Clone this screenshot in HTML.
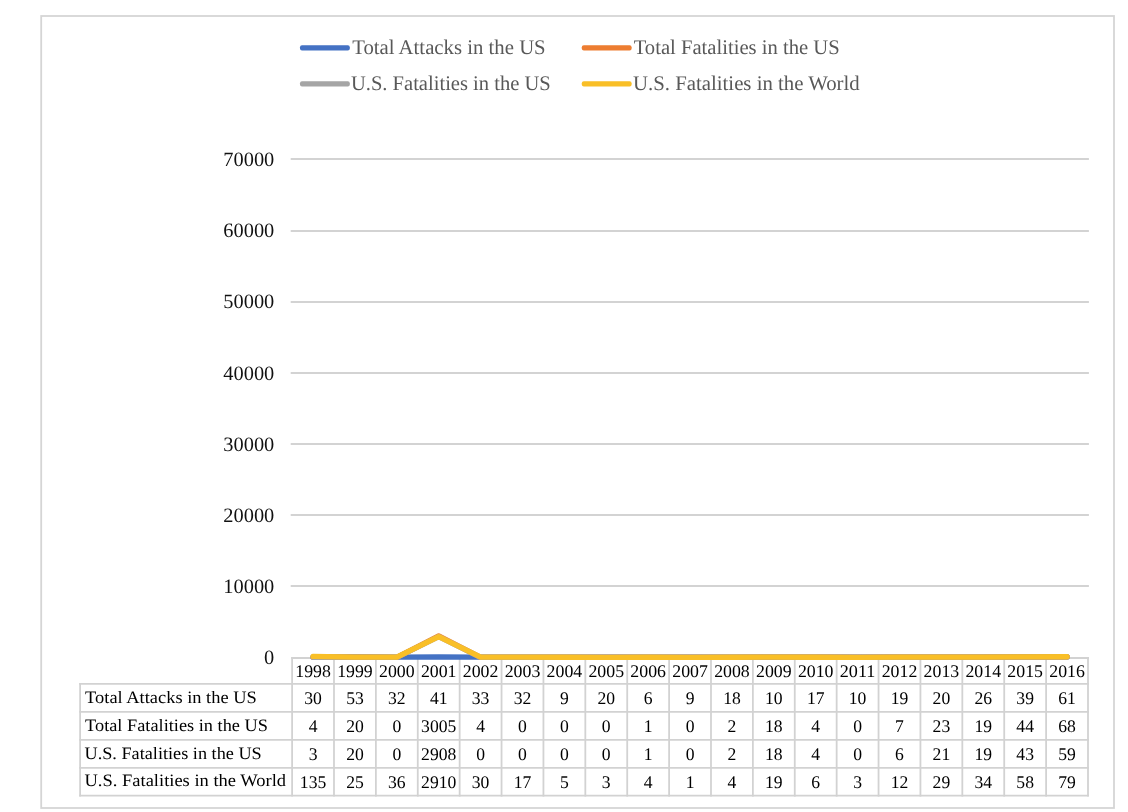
<!DOCTYPE html>
<html lang="en"><head><meta charset="utf-8"><title>Chart</title>
<style>html,body{margin:0;padding:0;background:#fff}body{width:1128px;height:812px;overflow:hidden}svg{display:block}text{font-family:"Liberation Serif","Times New Roman",serif;text-rendering:geometricPrecision}</style></head><body>
<svg width="1128" height="812" viewBox="0 0 1128 812">
<rect x="0" y="0" width="1128" height="812" fill="#fff"/>
<rect x="41.2" y="16" width="1072.8" height="792" fill="none" stroke="#D5D5D5" stroke-width="1.8"/>
<line x1="290.7" y1="159.00" x2="1088.9" y2="159.00" stroke="#D3D3D3" stroke-width="1.8"/>
<text x="274.3" y="166" font-size="20.4" text-anchor="end" fill="#111">70000</text>
<line x1="290.7" y1="231.00" x2="1088.9" y2="231.00" stroke="#D3D3D3" stroke-width="1.8"/>
<text x="274.3" y="237" font-size="20.4" text-anchor="end" fill="#111">60000</text>
<line x1="290.7" y1="302.00" x2="1088.9" y2="302.00" stroke="#D3D3D3" stroke-width="1.8"/>
<text x="274.3" y="308" font-size="20.4" text-anchor="end" fill="#111">50000</text>
<line x1="290.7" y1="373.00" x2="1088.9" y2="373.00" stroke="#D3D3D3" stroke-width="1.8"/>
<text x="274.3" y="380" font-size="20.4" text-anchor="end" fill="#111">40000</text>
<line x1="290.7" y1="444.00" x2="1088.9" y2="444.00" stroke="#D3D3D3" stroke-width="1.8"/>
<text x="274.3" y="451" font-size="20.4" text-anchor="end" fill="#111">30000</text>
<line x1="290.7" y1="515.00" x2="1088.9" y2="515.00" stroke="#D3D3D3" stroke-width="1.8"/>
<text x="274.3" y="522" font-size="20.4" text-anchor="end" fill="#111">20000</text>
<line x1="290.7" y1="586.00" x2="1088.9" y2="586.00" stroke="#D3D3D3" stroke-width="1.8"/>
<text x="274.3" y="593" font-size="20.4" text-anchor="end" fill="#111">10000</text>
<text x="274.3" y="664" font-size="20.4" text-anchor="end" fill="#111">0</text>
<rect x="300.0" y="45.20" width="49.8" height="5.4" rx="2" fill="#4472C4"/>
<text x="352.2" y="53.9" font-size="20.8" fill="#595959" textLength="193.5" lengthAdjust="spacingAndGlyphs">Total Attacks in the US</text>
<rect x="581.8" y="45.20" width="49.8" height="5.4" rx="2" fill="#ED7D31"/>
<text x="633.7" y="53.9" font-size="20.8" fill="#595959" textLength="206.0" lengthAdjust="spacingAndGlyphs">Total Fatalities in the US</text>
<rect x="300.0" y="81.20" width="49.8" height="5.4" rx="2" fill="#A5A5A5"/>
<text x="350.9" y="89.9" font-size="20.8" fill="#595959" textLength="199.9" lengthAdjust="spacingAndGlyphs">U.S. Fatalities in the US</text>
<rect x="581.8" y="81.20" width="49.8" height="5.4" rx="2" fill="#F9BF27"/>
<text x="633.1" y="89.9" font-size="20.8" fill="#595959" textLength="226.6" lengthAdjust="spacingAndGlyphs">U.S. Fatalities in the World</text>
<path d="M292.1 658.0 V683.8" stroke="#D2D2D2" stroke-width="1.8" fill="none" stroke-linecap="square"/>
<path d="M333.99 658.0 V795.7" stroke="#D2D2D2" stroke-width="1.8" fill="none" stroke-linecap="square"/>
<path d="M375.88 658.0 V795.7" stroke="#D2D2D2" stroke-width="1.8" fill="none" stroke-linecap="square"/>
<path d="M417.77 658.0 V795.7" stroke="#D2D2D2" stroke-width="1.8" fill="none" stroke-linecap="square"/>
<path d="M459.66 658.0 V795.7" stroke="#D2D2D2" stroke-width="1.8" fill="none" stroke-linecap="square"/>
<path d="M501.55 658.0 V795.7" stroke="#D2D2D2" stroke-width="1.8" fill="none" stroke-linecap="square"/>
<path d="M543.44 658.0 V795.7" stroke="#D2D2D2" stroke-width="1.8" fill="none" stroke-linecap="square"/>
<path d="M585.33 658.0 V795.7" stroke="#D2D2D2" stroke-width="1.8" fill="none" stroke-linecap="square"/>
<path d="M627.22 658.0 V795.7" stroke="#D2D2D2" stroke-width="1.8" fill="none" stroke-linecap="square"/>
<path d="M669.11 658.0 V795.7" stroke="#D2D2D2" stroke-width="1.8" fill="none" stroke-linecap="square"/>
<path d="M710.99 658.0 V795.7" stroke="#D2D2D2" stroke-width="1.8" fill="none" stroke-linecap="square"/>
<path d="M752.88 658.0 V795.7" stroke="#D2D2D2" stroke-width="1.8" fill="none" stroke-linecap="square"/>
<path d="M794.77 658.0 V795.7" stroke="#D2D2D2" stroke-width="1.8" fill="none" stroke-linecap="square"/>
<path d="M836.66 658.0 V795.7" stroke="#D2D2D2" stroke-width="1.8" fill="none" stroke-linecap="square"/>
<path d="M878.55 658.0 V795.7" stroke="#D2D2D2" stroke-width="1.8" fill="none" stroke-linecap="square"/>
<path d="M920.44 658.0 V795.7" stroke="#D2D2D2" stroke-width="1.8" fill="none" stroke-linecap="square"/>
<path d="M962.33 658.0 V795.7" stroke="#D2D2D2" stroke-width="1.8" fill="none" stroke-linecap="square"/>
<path d="M1004.22 658.0 V795.7" stroke="#D2D2D2" stroke-width="1.8" fill="none" stroke-linecap="square"/>
<path d="M1046.11 658.0 V795.7" stroke="#D2D2D2" stroke-width="1.8" fill="none" stroke-linecap="square"/>
<path d="M1088.00 658.0 V795.7" stroke="#D2D2D2" stroke-width="1.8" fill="none" stroke-linecap="square"/>
<path d="M292.1 683.8 V795.7" stroke="#D2D2D2" stroke-width="1.8" fill="none" stroke-linecap="square"/>
<path d="M80.1 683.8 V795.7" stroke="#D2D2D2" stroke-width="1.8" fill="none" stroke-linecap="square"/>
<path d="M292.1 658.0 H1088.0" stroke="#D2D2D2" stroke-width="1.8" fill="none" stroke-linecap="square"/>
<path d="M80.1 683.8 H1088.0" stroke="#D2D2D2" stroke-width="1.8" fill="none" stroke-linecap="square"/>
<path d="M80.1 711.8 H1088.0" stroke="#D2D2D2" stroke-width="1.8" fill="none" stroke-linecap="square"/>
<path d="M80.1 739.9 H1088.0" stroke="#D2D2D2" stroke-width="1.8" fill="none" stroke-linecap="square"/>
<path d="M80.1 767.9 H1088.0" stroke="#D2D2D2" stroke-width="1.8" fill="none" stroke-linecap="square"/>
<path d="M80.1 795.7 H1088.0" stroke="#D2D2D2" stroke-width="1.8" fill="none" stroke-linecap="square"/>
<text x="313.04" y="677.2" font-size="17.8" text-anchor="middle" fill="#000" textLength="35.6" lengthAdjust="spacingAndGlyphs">1998</text>
<text x="354.93" y="677.2" font-size="17.8" text-anchor="middle" fill="#000" textLength="35.6" lengthAdjust="spacingAndGlyphs">1999</text>
<text x="396.82" y="677.2" font-size="17.8" text-anchor="middle" fill="#000" textLength="35.6" lengthAdjust="spacingAndGlyphs">2000</text>
<text x="438.71" y="677.2" font-size="17.8" text-anchor="middle" fill="#000" textLength="35.6" lengthAdjust="spacingAndGlyphs">2001</text>
<text x="480.60" y="677.2" font-size="17.8" text-anchor="middle" fill="#000" textLength="35.6" lengthAdjust="spacingAndGlyphs">2002</text>
<text x="522.49" y="677.2" font-size="17.8" text-anchor="middle" fill="#000" textLength="35.6" lengthAdjust="spacingAndGlyphs">2003</text>
<text x="564.38" y="677.2" font-size="17.8" text-anchor="middle" fill="#000" textLength="35.6" lengthAdjust="spacingAndGlyphs">2004</text>
<text x="606.27" y="677.2" font-size="17.8" text-anchor="middle" fill="#000" textLength="35.6" lengthAdjust="spacingAndGlyphs">2005</text>
<text x="648.16" y="677.2" font-size="17.8" text-anchor="middle" fill="#000" textLength="35.6" lengthAdjust="spacingAndGlyphs">2006</text>
<text x="690.05" y="677.2" font-size="17.8" text-anchor="middle" fill="#000" textLength="35.6" lengthAdjust="spacingAndGlyphs">2007</text>
<text x="731.94" y="677.2" font-size="17.8" text-anchor="middle" fill="#000" textLength="35.6" lengthAdjust="spacingAndGlyphs">2008</text>
<text x="773.83" y="677.2" font-size="17.8" text-anchor="middle" fill="#000" textLength="35.6" lengthAdjust="spacingAndGlyphs">2009</text>
<text x="815.72" y="677.2" font-size="17.8" text-anchor="middle" fill="#000" textLength="35.6" lengthAdjust="spacingAndGlyphs">2010</text>
<text x="857.61" y="677.2" font-size="17.8" text-anchor="middle" fill="#000" textLength="35.6" lengthAdjust="spacingAndGlyphs">2011</text>
<text x="899.50" y="677.2" font-size="17.8" text-anchor="middle" fill="#000" textLength="35.6" lengthAdjust="spacingAndGlyphs">2012</text>
<text x="941.39" y="677.2" font-size="17.8" text-anchor="middle" fill="#000" textLength="35.6" lengthAdjust="spacingAndGlyphs">2013</text>
<text x="983.28" y="677.2" font-size="17.8" text-anchor="middle" fill="#000" textLength="35.6" lengthAdjust="spacingAndGlyphs">2014</text>
<text x="1025.17" y="677.2" font-size="17.8" text-anchor="middle" fill="#000" textLength="35.6" lengthAdjust="spacingAndGlyphs">2015</text>
<text x="1067.06" y="677.2" font-size="17.8" text-anchor="middle" fill="#000" textLength="35.6" lengthAdjust="spacingAndGlyphs">2016</text>
<text x="85.1" y="702.9" font-size="17.4" fill="#000" textLength="171.7" lengthAdjust="spacingAndGlyphs">Total Attacks in the US</text>
<text x="313.04" y="704.0" font-size="17.8" text-anchor="middle" fill="#000" textLength="17.6" lengthAdjust="spacingAndGlyphs">30</text>
<text x="354.93" y="704.0" font-size="17.8" text-anchor="middle" fill="#000" textLength="17.6" lengthAdjust="spacingAndGlyphs">53</text>
<text x="396.82" y="704.0" font-size="17.8" text-anchor="middle" fill="#000" textLength="17.6" lengthAdjust="spacingAndGlyphs">32</text>
<text x="438.71" y="704.0" font-size="17.8" text-anchor="middle" fill="#000" textLength="17.6" lengthAdjust="spacingAndGlyphs">41</text>
<text x="480.60" y="704.0" font-size="17.8" text-anchor="middle" fill="#000" textLength="17.6" lengthAdjust="spacingAndGlyphs">33</text>
<text x="522.49" y="704.0" font-size="17.8" text-anchor="middle" fill="#000" textLength="17.6" lengthAdjust="spacingAndGlyphs">32</text>
<text x="564.38" y="704.0" font-size="17.8" text-anchor="middle" fill="#000" textLength="8.8" lengthAdjust="spacingAndGlyphs">9</text>
<text x="606.27" y="704.0" font-size="17.8" text-anchor="middle" fill="#000" textLength="17.6" lengthAdjust="spacingAndGlyphs">20</text>
<text x="648.16" y="704.0" font-size="17.8" text-anchor="middle" fill="#000" textLength="8.8" lengthAdjust="spacingAndGlyphs">6</text>
<text x="690.05" y="704.0" font-size="17.8" text-anchor="middle" fill="#000" textLength="8.8" lengthAdjust="spacingAndGlyphs">9</text>
<text x="731.94" y="704.0" font-size="17.8" text-anchor="middle" fill="#000" textLength="17.6" lengthAdjust="spacingAndGlyphs">18</text>
<text x="773.83" y="704.0" font-size="17.8" text-anchor="middle" fill="#000" textLength="17.6" lengthAdjust="spacingAndGlyphs">10</text>
<text x="815.72" y="704.0" font-size="17.8" text-anchor="middle" fill="#000" textLength="17.6" lengthAdjust="spacingAndGlyphs">17</text>
<text x="857.61" y="704.0" font-size="17.8" text-anchor="middle" fill="#000" textLength="17.6" lengthAdjust="spacingAndGlyphs">10</text>
<text x="899.50" y="704.0" font-size="17.8" text-anchor="middle" fill="#000" textLength="17.6" lengthAdjust="spacingAndGlyphs">19</text>
<text x="941.39" y="704.0" font-size="17.8" text-anchor="middle" fill="#000" textLength="17.6" lengthAdjust="spacingAndGlyphs">20</text>
<text x="983.28" y="704.0" font-size="17.8" text-anchor="middle" fill="#000" textLength="17.6" lengthAdjust="spacingAndGlyphs">26</text>
<text x="1025.17" y="704.0" font-size="17.8" text-anchor="middle" fill="#000" textLength="17.6" lengthAdjust="spacingAndGlyphs">39</text>
<text x="1067.06" y="704.0" font-size="17.8" text-anchor="middle" fill="#000" textLength="17.6" lengthAdjust="spacingAndGlyphs">61</text>
<text x="85.1" y="730.8" font-size="17.4" fill="#000" textLength="182.8" lengthAdjust="spacingAndGlyphs">Total Fatalities in the US</text>
<text x="313.04" y="732.0" font-size="17.8" text-anchor="middle" fill="#000" textLength="8.8" lengthAdjust="spacingAndGlyphs">4</text>
<text x="354.93" y="732.0" font-size="17.8" text-anchor="middle" fill="#000" textLength="17.6" lengthAdjust="spacingAndGlyphs">20</text>
<text x="396.82" y="732.0" font-size="17.8" text-anchor="middle" fill="#000" textLength="8.8" lengthAdjust="spacingAndGlyphs">0</text>
<text x="438.71" y="732.0" font-size="17.8" text-anchor="middle" fill="#000" textLength="35.2" lengthAdjust="spacingAndGlyphs">3005</text>
<text x="480.60" y="732.0" font-size="17.8" text-anchor="middle" fill="#000" textLength="8.8" lengthAdjust="spacingAndGlyphs">4</text>
<text x="522.49" y="732.0" font-size="17.8" text-anchor="middle" fill="#000" textLength="8.8" lengthAdjust="spacingAndGlyphs">0</text>
<text x="564.38" y="732.0" font-size="17.8" text-anchor="middle" fill="#000" textLength="8.8" lengthAdjust="spacingAndGlyphs">0</text>
<text x="606.27" y="732.0" font-size="17.8" text-anchor="middle" fill="#000" textLength="8.8" lengthAdjust="spacingAndGlyphs">0</text>
<text x="648.16" y="732.0" font-size="17.8" text-anchor="middle" fill="#000" textLength="8.8" lengthAdjust="spacingAndGlyphs">1</text>
<text x="690.05" y="732.0" font-size="17.8" text-anchor="middle" fill="#000" textLength="8.8" lengthAdjust="spacingAndGlyphs">0</text>
<text x="731.94" y="732.0" font-size="17.8" text-anchor="middle" fill="#000" textLength="8.8" lengthAdjust="spacingAndGlyphs">2</text>
<text x="773.83" y="732.0" font-size="17.8" text-anchor="middle" fill="#000" textLength="17.6" lengthAdjust="spacingAndGlyphs">18</text>
<text x="815.72" y="732.0" font-size="17.8" text-anchor="middle" fill="#000" textLength="8.8" lengthAdjust="spacingAndGlyphs">4</text>
<text x="857.61" y="732.0" font-size="17.8" text-anchor="middle" fill="#000" textLength="8.8" lengthAdjust="spacingAndGlyphs">0</text>
<text x="899.50" y="732.0" font-size="17.8" text-anchor="middle" fill="#000" textLength="8.8" lengthAdjust="spacingAndGlyphs">7</text>
<text x="941.39" y="732.0" font-size="17.8" text-anchor="middle" fill="#000" textLength="17.6" lengthAdjust="spacingAndGlyphs">23</text>
<text x="983.28" y="732.0" font-size="17.8" text-anchor="middle" fill="#000" textLength="17.6" lengthAdjust="spacingAndGlyphs">19</text>
<text x="1025.17" y="732.0" font-size="17.8" text-anchor="middle" fill="#000" textLength="17.6" lengthAdjust="spacingAndGlyphs">44</text>
<text x="1067.06" y="732.0" font-size="17.8" text-anchor="middle" fill="#000" textLength="17.6" lengthAdjust="spacingAndGlyphs">68</text>
<text x="84.5" y="758.7" font-size="17.4" fill="#000" textLength="177.2" lengthAdjust="spacingAndGlyphs">U.S. Fatalities in the US</text>
<text x="313.04" y="760.0" font-size="17.8" text-anchor="middle" fill="#000" textLength="8.8" lengthAdjust="spacingAndGlyphs">3</text>
<text x="354.93" y="760.0" font-size="17.8" text-anchor="middle" fill="#000" textLength="17.6" lengthAdjust="spacingAndGlyphs">20</text>
<text x="396.82" y="760.0" font-size="17.8" text-anchor="middle" fill="#000" textLength="8.8" lengthAdjust="spacingAndGlyphs">0</text>
<text x="438.71" y="760.0" font-size="17.8" text-anchor="middle" fill="#000" textLength="35.2" lengthAdjust="spacingAndGlyphs">2908</text>
<text x="480.60" y="760.0" font-size="17.8" text-anchor="middle" fill="#000" textLength="8.8" lengthAdjust="spacingAndGlyphs">0</text>
<text x="522.49" y="760.0" font-size="17.8" text-anchor="middle" fill="#000" textLength="8.8" lengthAdjust="spacingAndGlyphs">0</text>
<text x="564.38" y="760.0" font-size="17.8" text-anchor="middle" fill="#000" textLength="8.8" lengthAdjust="spacingAndGlyphs">0</text>
<text x="606.27" y="760.0" font-size="17.8" text-anchor="middle" fill="#000" textLength="8.8" lengthAdjust="spacingAndGlyphs">0</text>
<text x="648.16" y="760.0" font-size="17.8" text-anchor="middle" fill="#000" textLength="8.8" lengthAdjust="spacingAndGlyphs">1</text>
<text x="690.05" y="760.0" font-size="17.8" text-anchor="middle" fill="#000" textLength="8.8" lengthAdjust="spacingAndGlyphs">0</text>
<text x="731.94" y="760.0" font-size="17.8" text-anchor="middle" fill="#000" textLength="8.8" lengthAdjust="spacingAndGlyphs">2</text>
<text x="773.83" y="760.0" font-size="17.8" text-anchor="middle" fill="#000" textLength="17.6" lengthAdjust="spacingAndGlyphs">18</text>
<text x="815.72" y="760.0" font-size="17.8" text-anchor="middle" fill="#000" textLength="8.8" lengthAdjust="spacingAndGlyphs">4</text>
<text x="857.61" y="760.0" font-size="17.8" text-anchor="middle" fill="#000" textLength="8.8" lengthAdjust="spacingAndGlyphs">0</text>
<text x="899.50" y="760.0" font-size="17.8" text-anchor="middle" fill="#000" textLength="8.8" lengthAdjust="spacingAndGlyphs">6</text>
<text x="941.39" y="760.0" font-size="17.8" text-anchor="middle" fill="#000" textLength="17.6" lengthAdjust="spacingAndGlyphs">21</text>
<text x="983.28" y="760.0" font-size="17.8" text-anchor="middle" fill="#000" textLength="17.6" lengthAdjust="spacingAndGlyphs">19</text>
<text x="1025.17" y="760.0" font-size="17.8" text-anchor="middle" fill="#000" textLength="17.6" lengthAdjust="spacingAndGlyphs">43</text>
<text x="1067.06" y="760.0" font-size="17.8" text-anchor="middle" fill="#000" textLength="17.6" lengthAdjust="spacingAndGlyphs">59</text>
<text x="84.5" y="786.4" font-size="17.4" fill="#000" textLength="201.6" lengthAdjust="spacingAndGlyphs">U.S. Fatalities in the World</text>
<text x="313.04" y="788.0" font-size="17.8" text-anchor="middle" fill="#000" textLength="26.4" lengthAdjust="spacingAndGlyphs">135</text>
<text x="354.93" y="788.0" font-size="17.8" text-anchor="middle" fill="#000" textLength="17.6" lengthAdjust="spacingAndGlyphs">25</text>
<text x="396.82" y="788.0" font-size="17.8" text-anchor="middle" fill="#000" textLength="17.6" lengthAdjust="spacingAndGlyphs">36</text>
<text x="438.71" y="788.0" font-size="17.8" text-anchor="middle" fill="#000" textLength="35.2" lengthAdjust="spacingAndGlyphs">2910</text>
<text x="480.60" y="788.0" font-size="17.8" text-anchor="middle" fill="#000" textLength="17.6" lengthAdjust="spacingAndGlyphs">30</text>
<text x="522.49" y="788.0" font-size="17.8" text-anchor="middle" fill="#000" textLength="17.6" lengthAdjust="spacingAndGlyphs">17</text>
<text x="564.38" y="788.0" font-size="17.8" text-anchor="middle" fill="#000" textLength="8.8" lengthAdjust="spacingAndGlyphs">5</text>
<text x="606.27" y="788.0" font-size="17.8" text-anchor="middle" fill="#000" textLength="8.8" lengthAdjust="spacingAndGlyphs">3</text>
<text x="648.16" y="788.0" font-size="17.8" text-anchor="middle" fill="#000" textLength="8.8" lengthAdjust="spacingAndGlyphs">4</text>
<text x="690.05" y="788.0" font-size="17.8" text-anchor="middle" fill="#000" textLength="8.8" lengthAdjust="spacingAndGlyphs">1</text>
<text x="731.94" y="788.0" font-size="17.8" text-anchor="middle" fill="#000" textLength="8.8" lengthAdjust="spacingAndGlyphs">4</text>
<text x="773.83" y="788.0" font-size="17.8" text-anchor="middle" fill="#000" textLength="17.6" lengthAdjust="spacingAndGlyphs">19</text>
<text x="815.72" y="788.0" font-size="17.8" text-anchor="middle" fill="#000" textLength="8.8" lengthAdjust="spacingAndGlyphs">6</text>
<text x="857.61" y="788.0" font-size="17.8" text-anchor="middle" fill="#000" textLength="8.8" lengthAdjust="spacingAndGlyphs">3</text>
<text x="899.50" y="788.0" font-size="17.8" text-anchor="middle" fill="#000" textLength="17.6" lengthAdjust="spacingAndGlyphs">12</text>
<text x="941.39" y="788.0" font-size="17.8" text-anchor="middle" fill="#000" textLength="17.6" lengthAdjust="spacingAndGlyphs">29</text>
<text x="983.28" y="788.0" font-size="17.8" text-anchor="middle" fill="#000" textLength="17.6" lengthAdjust="spacingAndGlyphs">34</text>
<text x="1025.17" y="788.0" font-size="17.8" text-anchor="middle" fill="#000" textLength="17.6" lengthAdjust="spacingAndGlyphs">58</text>
<text x="1067.06" y="788.0" font-size="17.8" text-anchor="middle" fill="#000" textLength="17.6" lengthAdjust="spacingAndGlyphs">79</text>
<polyline points="313.04,657.09 354.93,656.92 396.82,657.07 438.71,657.01 480.60,657.06 522.49,657.07 564.38,657.24 606.27,657.16 648.16,657.26 690.05,657.24 731.94,657.17 773.83,657.23 815.72,657.18 857.61,657.23 899.50,657.16 941.39,657.16 983.28,657.11 1025.17,657.02 1067.06,656.87" fill="none" stroke="#4472C4" stroke-width="5.3" stroke-linecap="round" stroke-linejoin="round"/>
<polyline points="313.04,657.27 354.93,657.16 396.82,657.30 438.71,635.88 480.60,657.27 522.49,657.30 564.38,657.30 606.27,657.30 648.16,657.29 690.05,657.30 731.94,657.29 773.83,657.17 815.72,657.27 857.61,657.30 899.50,657.25 941.39,657.14 983.28,657.16 1025.17,656.99 1067.06,656.82" fill="none" stroke="#ED7D31" stroke-width="5.3" stroke-linecap="round" stroke-linejoin="round"/>
<polyline points="313.04,657.28 354.93,657.16 396.82,657.30 438.71,636.57 480.60,657.30 522.49,657.30 564.38,657.30 606.27,657.30 648.16,657.29 690.05,657.30 731.94,657.29 773.83,657.17 815.72,657.27 857.61,657.30 899.50,657.26 941.39,657.15 983.28,657.16 1025.17,656.99 1067.06,656.88" fill="none" stroke="#A5A5A5" stroke-width="5.3" stroke-linecap="round" stroke-linejoin="round"/>
<polyline points="313.04,656.34 354.93,657.12 396.82,657.04 438.71,636.56 480.60,657.09 522.49,657.18 564.38,657.26 606.27,657.28 648.16,657.27 690.05,657.29 731.94,657.27 773.83,657.16 815.72,657.26 857.61,657.28 899.50,657.21 941.39,657.09 983.28,657.06 1025.17,656.89 1067.06,656.74" fill="none" stroke="#F9BF27" stroke-width="5.3" stroke-linecap="round" stroke-linejoin="round"/>
</svg></body></html>
